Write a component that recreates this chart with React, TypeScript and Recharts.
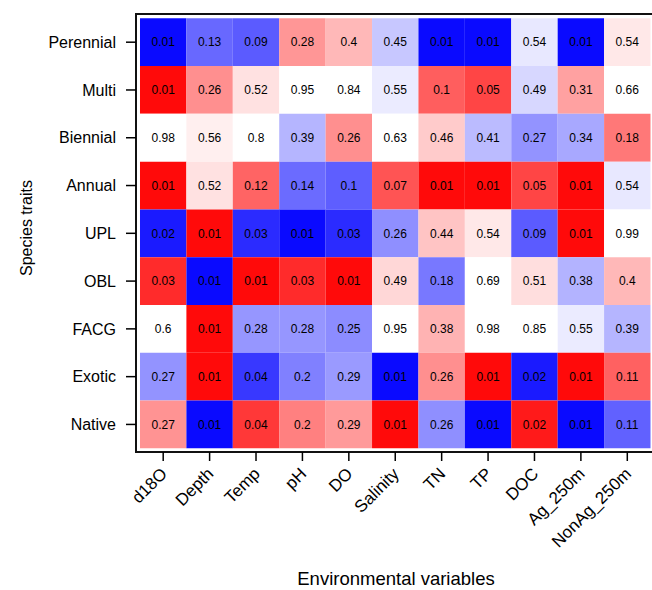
import React from 'react';
import { ScatterChart, Scatter, XAxis, YAxis, ReferenceArea, Label } from 'recharts';

// Environmental variables (columns) and species traits (rows, top to bottom)
const envVars = ['d18O', 'Depth', 'Temp', 'pH', 'DO', 'Salinity', 'TN', 'TP', 'DOC', 'Ag_250m', 'NonAg_250m'];
const traits = ['Perennial', 'Multi', 'Biennial', 'Annual', 'UPL', 'OBL', 'FACG', 'Exotic', 'Native'];

// p-values per trait (same column order as envVars)
const perennialP = [0.01, 0.13, 0.09, 0.28, 0.4, 0.45, 0.01, 0.01, 0.54, 0.01, 0.54];
const multiP = [0.01, 0.26, 0.52, 0.95, 0.84, 0.55, 0.1, 0.05, 0.49, 0.31, 0.66];
const biennialP = [0.98, 0.56, 0.8, 0.39, 0.26, 0.63, 0.46, 0.41, 0.27, 0.34, 0.18];
const annualP = [0.01, 0.52, 0.12, 0.14, 0.1, 0.07, 0.01, 0.01, 0.05, 0.01, 0.54];
const uplP = [0.02, 0.01, 0.03, 0.01, 0.03, 0.26, 0.44, 0.54, 0.09, 0.01, 0.99];
const oblP = [0.03, 0.01, 0.01, 0.03, 0.01, 0.49, 0.18, 0.69, 0.51, 0.38, 0.4];
const facgP = [0.6, 0.01, 0.28, 0.28, 0.25, 0.95, 0.38, 0.98, 0.85, 0.55, 0.39];
const exoticP = [0.27, 0.01, 0.04, 0.2, 0.29, 0.01, 0.26, 0.01, 0.02, 0.01, 0.11];
const nativeP = [0.27, 0.01, 0.04, 0.2, 0.29, 0.01, 0.26, 0.01, 0.02, 0.01, 0.11];

// direction of association: 1 = positive (red), -1 = negative (blue), 0 = none
const perennialDir = [-1, -1, -1, 1, 1, -1, -1, -1, -1, -1, 1];
const multiDir = [1, 1, 1, 0, 0, -1, 1, 1, -1, 1, 0];
const biennialDir = [0, 1, 0, -1, 1, 0, 1, -1, -1, -1, 1];
const annualDir = [1, 1, 1, -1, -1, 1, 1, 1, 1, 1, -1];
const uplDir = [-1, 1, -1, -1, -1, -1, 1, 1, -1, 1, 0];
const oblDir = [1, -1, 1, 1, 1, 1, -1, 0, 1, -1, 1];
const facgDir = [0, 1, -1, -1, -1, 0, 1, 0, 0, -1, -1];
const exoticDir = [-1, 1, -1, -1, -1, -1, 1, 1, -1, 1, 1];
const nativeDir = [1, -1, 1, 1, 1, 1, -1, -1, 1, -1, -1];

const pRows = [perennialP, multiP, biennialP, annualP, uplP, oblP, facgP, exoticP, nativeP];
const dirRows = [perennialDir, multiDir, biennialDir, annualDir, uplDir, oblDir, facgDir, exoticDir, nativeDir];

// colour scale: p-value -> lightness (style)
const stops: [number, number][] = [
  [0, 0], [0.01, 0.04], [0.02, 0.1], [0.03, 0.17], [0.04, 0.22], [0.05, 0.27], [0.07, 0.33],
  [0.1, 0.37], [0.15, 0.43], [0.2, 0.5], [0.26, 0.56], [0.3, 0.62], [0.4, 0.72], [0.45, 0.78],
  [0.5, 0.86], [0.55, 0.92], [0.6, 1], [1, 1],
];
function lightness(p: number) {
  for (let i = 1; i < stops.length; i++) {
    const [p0, l0] = stops[i - 1];
    const [p1, l1] = stops[i];
    if (p <= p1) return l0 + ((p - p0) / (p1 - p0)) * (l1 - l0);
  }
  return 1;
}
function cellColor(p: number, dir: number) {
  const v = Math.round(255 * lightness(p));
  if (dir > 0) return `rgb(255,${v},${v})`;
  if (dir < 0) return `rgb(${v},${v},255)`;
  return '#ffffff';
}

const cells = pRows.flatMap((row, r) =>
  row.map((p, c) => ({ r, c, p, dir: dirRows[r][c], x: c + 0.5, y: r + 0.5 }))
);

const nCols = envVars.length;
const nRows = traits.length;
// axis domains padded so the frame sits slightly outside the cells
const xDomain: [number, number] = [-0.086, nCols + 0.097];
const yDomain: [number, number] = [-0.09, nRows + 0.077];
const xTicks = envVars.map((_, i) => i + 0.5);
const yTicks = traits.map((_, i) => i + 0.5);

const FONT = '"Liberation Sans", Arial, Helvetica, sans-serif';

const XTick = (props: any) => {
  const { x, y, payload } = props;
  const label = envVars[Math.floor(payload.value)];
  const ax = x + 1;
  const ay = y + 8;
  return (
    <text
      x={ax}
      y={ay}
      transform={`rotate(-45 ${ax} ${ay})`}
      textAnchor="end"
      dominantBaseline="central"
      fontSize={17}
      fill="#000"
      fontFamily={FONT}
    >
      {label}
    </text>
  );
};

export default function App() {
  return (
    <div style={{ position: 'absolute', left: 0, top: 0, width: 652, height: 590, overflow: 'hidden', background: '#fff', fontFamily: FONT }}>
      <ScatterChart width={660} height={590} margin={{ top: 14, right: 5, bottom: 0, left: 0 }}>
        <XAxis
          type="number"
          dataKey="x"
          domain={xDomain}
          ticks={xTicks}
          interval={0}
          allowDataOverflow
          axisLine={false}
          tickLine={{ stroke: '#000', strokeWidth: 1.5 }}
          tickSize={9}
          tick={<XTick />}
          height={138}
        >
          <Label
            content={(p: any) => {
              const vb = p.viewBox;
              return (
                <text x={396} y={vb.y + vb.height - 5} textAnchor="middle" fontSize={18.5} fill="#000" fontFamily={FONT}>
                  Environmental variables
                </text>
              );
            }}
          />
        </XAxis>
        <YAxis
          type="number"
          dataKey="y"
          domain={yDomain}
          ticks={yTicks}
          interval={0}
          reversed
          allowDataOverflow
          axisLine={false}
          tickLine={{ stroke: '#000', strokeWidth: 1.5 }}
          tickSize={10}
          tickMargin={10}
          width={136}
          tickFormatter={(v: number) => traits[Math.floor(v)]}
          tick={{ fontSize: 16, fill: '#000', fontFamily: FONT }}
        >
          <Label
            content={() => {
              const cx = 26;
              const cy = 228;
              return (
                <text x={cx} y={cy} transform={`rotate(-90 ${cx} ${cy})`} textAnchor="middle" dominantBaseline="central" fontSize={16} fill="#000" fontFamily={FONT}>
                  Species traits
                </text>
              );
            }}
          />
        </YAxis>
        {cells.map((d) => (
          <ReferenceArea
            key={`${d.r}-${d.c}`}
            x1={d.c}
            x2={d.c + 1}
            y1={d.r}
            y2={d.r + 1}
            fill={cellColor(d.p, d.dir)}
            fillOpacity={1}
            stroke="none"
            ifOverflow="visible"
            label={{ value: String(d.p), position: 'center', fontSize: 12, fill: '#000', fontFamily: FONT }}
          />
        ))}
        <ReferenceArea
          x1={xDomain[0]}
          x2={xDomain[1]}
          y1={yDomain[0]}
          y2={yDomain[1]}
          fill="none"
          fillOpacity={0}
          stroke="#111"
          strokeWidth={2}
          ifOverflow="visible"
        />
        <Scatter data={cells} isAnimationActive={false} shape={() => <g />} />
      </ScatterChart>
    </div>
  );
}
